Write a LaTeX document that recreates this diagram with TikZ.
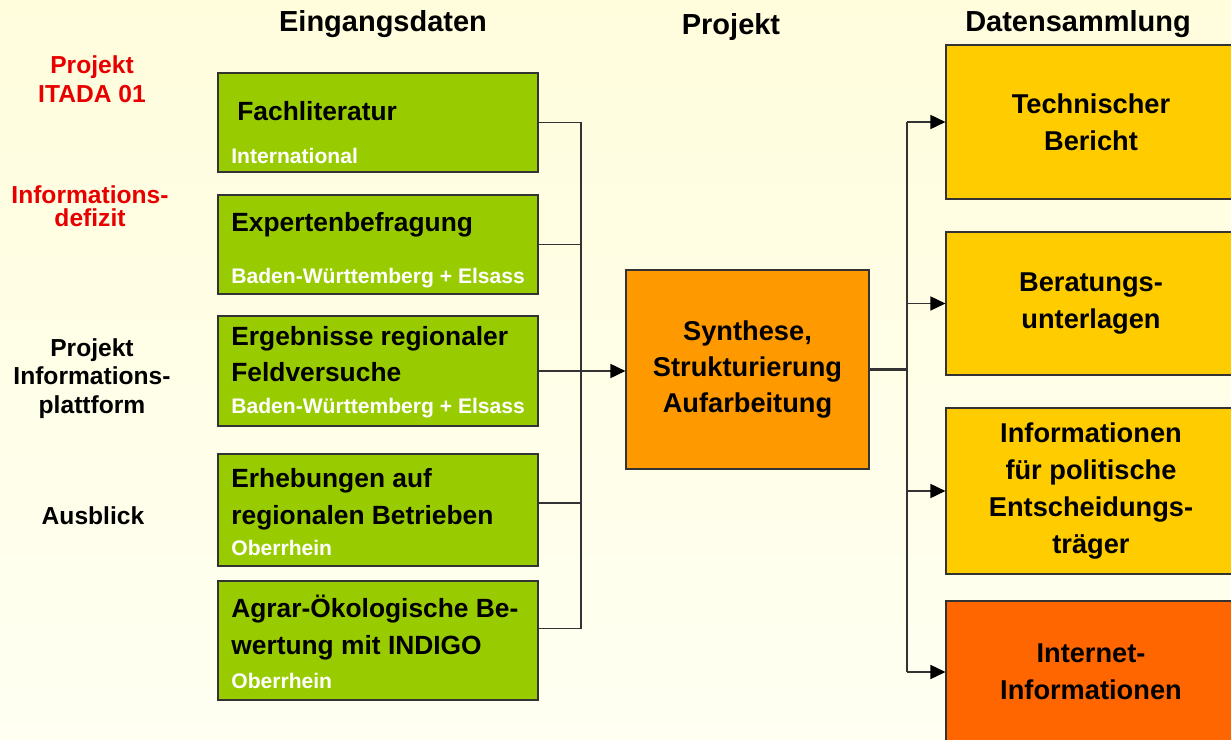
\documentclass[tikz,border=0pt]{standalone}
\usepackage{fontspec}
\setmainfont{Liberation Sans}
\usetikzlibrary{arrows.meta}
\definecolor{bgoben}{RGB}{255,253,220}
\definecolor{bgunten}{RGB}{255,255,242}
\definecolor{gruen}{RGB}{153,204,0}
\definecolor{orange}{RGB}{255,153,0}
\definecolor{gelb}{RGB}{255,204,0}
\definecolor{rotorange}{RGB}{255,102,0}
\definecolor{rot}{RGB}{232,0,0}
\begin{document}
\begin{tikzpicture}[x=0.02cm, y=-0.02cm, >={Triangle[length=8.5pt,width=8pt,color=black]},
  box/.style={draw=black!80, line width=0.7pt, inner sep=0pt},
  gruenbox/.style={box, fill=gruen, minimum width=6.4cm},
  zielbox/.style={box, minimum width=5.8cm, align=center, font=\bfseries\fontsize{15.5}{21}\selectfont},
  titel/.style={font=\bfseries\fontsize{16.5}{20}\selectfont},
  seite/.style={align=center, inner sep=0pt, font=\bfseries\fontsize{14}{16.4}\selectfont},
  haupt/.style={anchor=west, align=left, inner sep=0pt, font=\bfseries\fontsize{15}{20.8}\selectfont},
  unter/.style={anchor=west, inner sep=0pt, text=white, font=\bfseries\fontsize{12}{14}\selectfont},
  linie/.style={draw=black!80, line width=0.8pt}]
\useasboundingbox (0,0) rectangle (1231,740);
\clip (0,0) rectangle (1231,740);
\shade[top color=bgoben, bottom color=bgunten] (0,0) rectangle (1231,740);
% Titel
\node[titel] (t-ein) at (383,24) {Eingangsdaten};
\node[titel] (t-proj) at (731,27) {Projekt};
\node[titel] (t-daten) at (1078,24) {Datensammlung};
% linke Spalte
\node[seite, text=rot] (l-itada) at (92,79.5) {Projekt\\ITADA 01};
\node[seite, text=rot, font=\bfseries\fontsize{14}{13}\selectfont] (l-defizit) at (90,206.5) {Informations-\\defizit};
\node[seite] (l-plattform) at (92,378.5) {Projekt\\Informations-\\plattform};
\node[seite] (l-ausblick) at (93,516) {Ausblick};
% Eingangsdaten
\node[gruenbox, minimum height=1.98cm] (fach) at (378,122.5) {};
\node[haupt] (fach-t) at (237,111) {Fachliteratur};
\node[unter] (fach-u) at (231,156) {International};
\node[gruenbox, minimum height=1.98cm] (experten) at (378,244.5) {};
\node[haupt] (experten-t) at (231,225) {Expertenbefragung};
\node[unter] (experten-u) at (231,278) {Baden-Württemberg + Elsass};
\node[gruenbox, minimum height=2.2cm] (feld) at (378,371) {};
\node[haupt] (feld-t) at (231,354) {Ergebnisse regionaler\\Feldversuche};
\node[unter] (feld-u) at (231,408) {Baden-Württemberg + Elsass};
\node[gruenbox, minimum height=2.24cm] (erheb) at (378,510) {};
\node[haupt] (erheb-t) at (231,499.5) {Erhebungen auf\\regionalen Betrieben};
\node[unter] (erheb-u) at (231,548) {Oberrhein};
\node[gruenbox, minimum height=2.38cm] (agrar) at (378,640.5) {};
\node[haupt] (agrar-t) at (231,627.5) {Agrar-Ökologische Be-\\wertung mit INDIGO};
\node[unter] (agrar-u) at (231,681) {Oberrhein};
% Projekt
\node[box, fill=orange, minimum width=4.86cm, minimum height=3.98cm, align=center,
  font=\bfseries\fontsize{15.5}{20.4}\selectfont] (synth) at (747.5,369.5)
  {Synthese,\\Strukturierung\\Aufarbeitung};
% Datensammlung
\node[zielbox, fill=gelb, minimum height=3.08cm] (technik) at (1091,122) {Technischer\\Bericht};
\node[zielbox, fill=gelb, minimum height=2.86cm] (beratung) at (1091,303.5) {Beratungs-\\unterlagen};
\node[zielbox, fill=gelb, minimum height=3.32cm] (politik) at (1091,491) {Informationen\\für politische\\Entscheidungs-\\träger};
\node[zielbox, fill=rotorange, minimum height=2.84cm] (internet) at (1091,672) {Internet-\\Informationen};
% Eingang -> Projekt
\coordinate (inbus) at (581,371);
\coordinate (erheb-aus) at ([yshift=4pt]erheb.east);
\coordinate (agrar-aus) at ([yshift=7pt]agrar.east);
\draw[linie] (fach.east) -- (fach.east -| inbus) -- (agrar-aus -| inbus) -- (agrar-aus);
\draw[linie] (experten.east) -- (experten.east -| inbus);
\draw[linie] (erheb-aus) -- (erheb-aus -| inbus);
\draw[linie, ->] (feld.east) -- (feld.east -| synth.west);
% Projekt -> Datensammlung
\coordinate (outbus) at (907,369.5);
\draw[linie, line width=1.2pt] (synth.east) -- (outbus);
\draw[linie] (technik.west -| outbus) -- (internet.west -| outbus);
\draw[linie, ->] (technik.west -| outbus) -- (technik.west);
\draw[linie, ->] (beratung.west -| outbus) -- (beratung.west);
\draw[linie, ->] (politik.west -| outbus) -- (politik.west);
\draw[linie, ->] (internet.west -| outbus) -- (internet.west);
\end{tikzpicture}
\end{document}
